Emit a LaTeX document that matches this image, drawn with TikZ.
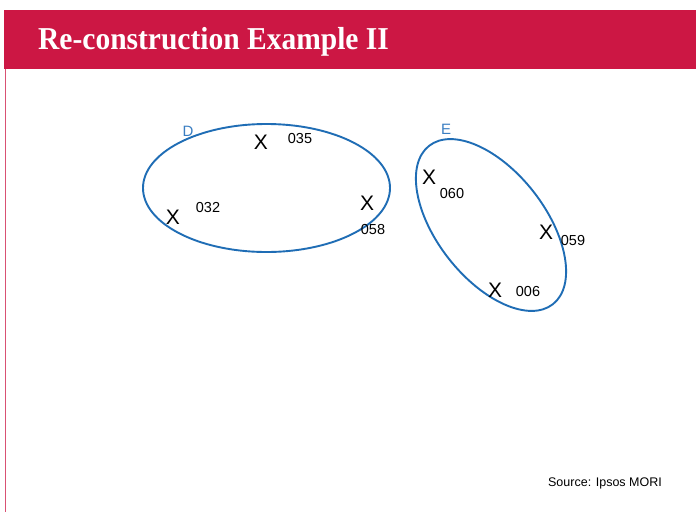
\documentclass[tikz,border=0pt]{standalone}
\usepackage{fontspec}
\setmainfont{Liberation Sans}
\newfontfamily\titlefont{Liberation Serif}
\definecolor{banner}{HTML}{CC1744}
\definecolor{ringblue}{HTML}{1F6DB5}
\definecolor{labelblue}{HTML}{3A7EC2}
\begin{document}
\begin{tikzpicture}[x=1pt,y=-1pt,
  ring/.style={draw=ringblue,line width=1.9pt},
  xmark/.style={font=\fontsize{21}{21}\selectfont,inner sep=0pt},
  num/.style={font=\fontsize{14.5}{14.5}\selectfont,inner sep=0pt},
  grp/.style={font=\fontsize{15}{15}\selectfont,text=labelblue,inner sep=0pt}]
\useasboundingbox (0,0) rectangle (696,512);
\fill[white] (0,0) rectangle (696,512);
\fill[banner] (4,10) rectangle (696,69);
\draw[banner!75,line width=1.6pt] (5.5,69) -- (5.5,512);
\node[anchor=west,text=white,font=\titlefont\bfseries\fontsize{29.5}{29.5}\selectfont,inner sep=0pt] (title) at (38,42) {\scalebox{1}[1.08]{Re-construction Example II}};
% ellipses
\draw[ring] (266.5,188) ellipse [x radius=123.5pt, y radius=64pt];
\draw[ring,rotate around={-52:(491,225)}] (491,225) ellipse [x radius=100.5pt, y radius=54pt];
\node[grp] (D) at (188,131) {D};
\node[grp] (E) at (446,129) {E};
% marks
\node[xmark] (x035) at (261,142) {X};
\node[xmark] (x032) at (173,217) {X};
\node[xmark] (x058) at (367,203) {X};
\node[xmark] (x060) at (429,177) {X};
\node[xmark] (x059) at (546,232) {X};
\node[xmark] (x006) at (495,290) {X};
\node[num] (n035) at (300,139) {035};
\node[num] (n032) at (208,208) {032};
\node[num] (n058) at (373,230) {058};
\node[num] (n060) at (452,194) {060};
\node[num] (n059) at (573,241) {059};
\node[num] (n006) at (528,292) {006};
\node[font=\fontsize{12.5}{12.5}\selectfont,inner sep=0pt] (src) at (605,483) {Source: Ipsos MORI};
\end{tikzpicture}
\end{document}
